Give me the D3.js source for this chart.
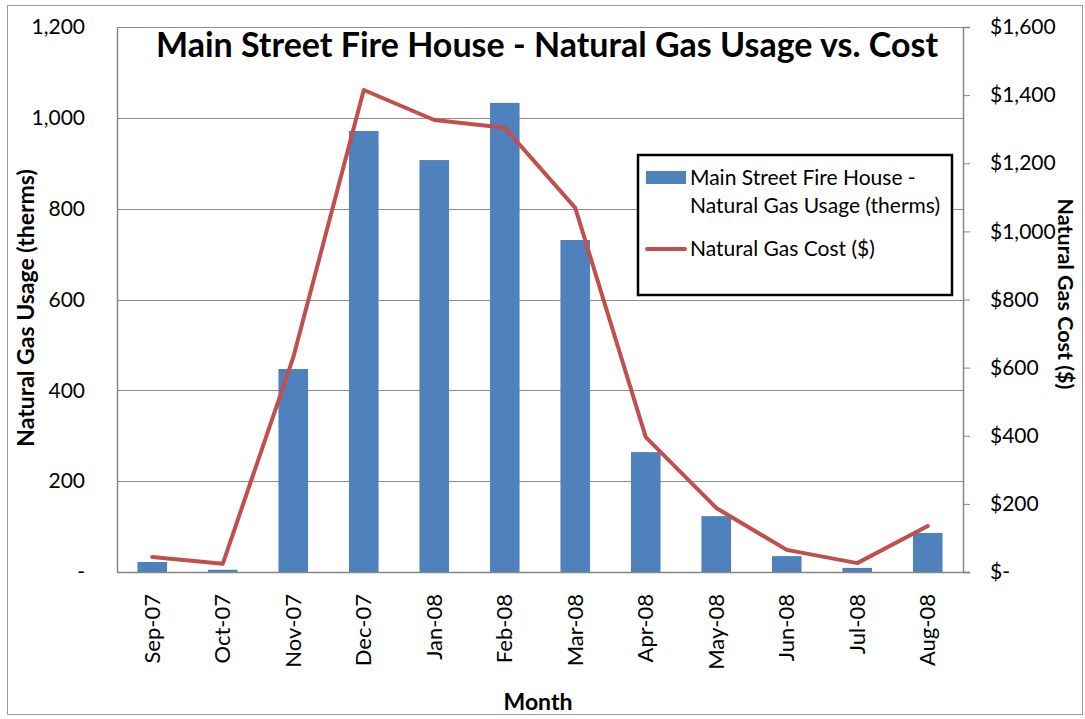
<!DOCTYPE html>
<html>
<head>
<meta charset="utf-8">
<script src="https://cdn.jsdelivr.net/npm/d3@7"></script>
<style>
  body { margin: 0; background: #fff; }
  svg { font-family: Lato, "Open Sans", sans-serif; }
</style>
</head>
<body>
<div class="chart"></div>
<script>
// valores
const months = ['Sep-07', 'Oct-07', 'Nov-07', 'Dec-07', 'Jan-08', 'Feb-08',
                'Mar-08', 'Apr-08', 'May-08', 'Jun-08', 'Jul-08', 'Aug-08'];
const usage = [22, 5, 447, 971, 907, 1033, 731, 264, 123, 35, 9, 86];
const cost = [44, 24, 630, 1415, 1327, 1304, 1069, 396, 188, 65, 26, 135];
const leftTicks = [0, 200, 400, 600, 800, 1000, 1200];
const rightTicks = [0, 200, 400, 600, 800, 1000, 1200, 1400, 1600];

const WIDTH = 1085;
const HEIGHT = 719;
const MARGIN = { TOP: 27, BOTTOM: 147, LEFT: 117, RIGHT: 122 };
const width = WIDTH - MARGIN.LEFT - MARGIN.RIGHT;
const height = HEIGHT - MARGIN.TOP - MARGIN.BOTTOM;

const svg = d3.select('.chart').append('svg')
  .attr('width', WIDTH)
  .attr('height', HEIGHT);

// marco exterior
svg.append('rect')
  .attr('x', 7.5).attr('y', 5.5)
  .attr('width', WIDTH - 10).attr('height', HEIGHT - 10)
  .attr('fill', 'none').attr('stroke', '#9a9a9a').attr('stroke-width', 1);

const g = svg.append('g')
  .attr('transform', `translate(${MARGIN.LEFT}, ${MARGIN.TOP})`);

const xscale = d3.scaleBand().domain(months).range([0, width]).paddingInner(0.58).paddingOuter(0.29);
const yscale = d3.scaleLinear().domain([0, 1200]).range([height, 0]);
const yscale2 = d3.scaleLinear().domain([0, 1600]).range([height, 0]);

// grilla
g.append('g').selectAll('line')
  .data(leftTicks.slice(1))
  .join('line')
    .attr('x1', 0).attr('x2', width)
    .attr('y1', d => Math.round(yscale(d)) + 0.5)
    .attr('y2', d => Math.round(yscale(d)) + 0.5)
    .attr('stroke', '#8c8c8c');

// barras
g.append('g').selectAll('rect')
  .data(usage)
  .join('rect')
    .attr('x', (d, i) => xscale(months[i]))
    .attr('y', d => yscale(d))
    .attr('width', xscale.bandwidth())
    .attr('height', d => height - yscale(d))
    .attr('fill', '#4f81bd');

// linea de costo
const line = d3.line()
  .x((d, i) => xscale(months[i]) + xscale.bandwidth() / 2)
  .y(d => yscale2(d));

g.append('path')
  .datum(cost)
  .attr('d', line)
  .attr('fill', 'none')
  .attr('stroke', '#c0504d')
  .attr('stroke-width', 4)
  .attr('stroke-linejoin', 'round')
  .attr('stroke-linecap', 'round');

// ejes
const axisLeft = d3.axisLeft(yscale).tickValues(leftTicks).tickSize(0).tickPadding(32)
  .tickFormat(d => d === 0 ? '-' : d3.format(',')(d));
const axisRight = d3.axisRight(yscale2).tickValues(rightTicks).tickSize(7).tickPadding(20)
  .tickFormat(d => d === 0 ? '$-' : '$' + d3.format(',')(d));
const axisBottom = d3.axisBottom(xscale).tickSize(0).tickPadding(14);

const yAxis = g.append('g').call(axisLeft);
const yAxis2 = g.append('g').attr('transform', `translate(${width}, 0)`).call(axisRight);
const xAxis = g.append('g').attr('transform', `translate(0, ${height})`).call(axisBottom);

[yAxis, yAxis2, xAxis].forEach(a => {
  a.select('.domain').attr('stroke', '#868686').attr('stroke-width', 1.5);
  a.selectAll('.tick line').attr('stroke', '#868686');
  a.selectAll('text').attr('font-size', 21).attr('fill', '#000').attr('font-family', 'Lato, sans-serif');
});
yAxis.select('.domain').attr('d', `M0.5,0V${height}`);
xAxis.select('.domain').attr('d', `M0,0.5H${width + 7}`);

xAxis.selectAll('text')
  .attr('font-size', 22)
  .attr('transform', 'rotate(-90)')
  .attr('text-anchor', 'end')
  .attr('dy', '0.35em')
  .attr('x', -22)
  .attr('y', 0);

// titulos
svg.append('text')
  .attr('x', 547).attr('y', 57)
  .attr('text-anchor', 'middle')
  .attr('font-size', 34).attr('font-weight', 'bold')
  .text('Main Street Fire House - Natural Gas Usage vs. Cost');

svg.append('text')
  .attr('transform', 'translate(34, 308) rotate(-90)')
  .attr('text-anchor', 'middle')
  .attr('font-size', 23).attr('font-weight', 'bold')
  .text('Natural Gas Usage (therms)');

svg.append('text')
  .attr('transform', 'translate(1058, 294) rotate(90)')
  .attr('text-anchor', 'middle')
  .attr('font-size', 21.5).attr('font-weight', 'bold')
  .text('Natural Gas Cost ($)');

svg.append('text')
  .attr('x', 538).attr('y', 710)
  .attr('text-anchor', 'middle')
  .attr('font-size', 23).attr('font-weight', 'bold')
  .text('Month');

// leyenda
const legend = svg.append('g').attr('transform', 'translate(638, 155)');
legend.append('rect')
  .attr('width', 314).attr('height', 140)
  .attr('fill', '#fff').attr('stroke', '#000').attr('stroke-width', 2.5);
legend.append('rect')
  .attr('x', 8).attr('y', 16).attr('width', 40).attr('height', 13)
  .attr('fill', '#4f81bd');
legend.append('line')
  .attr('x1', 9).attr('x2', 47).attr('y1', 94).attr('y2', 94)
  .attr('stroke', '#c0504d').attr('stroke-width', 4).attr('stroke-linecap', 'round');
const legText = legend.append('text').attr('font-size', 21);
legText.append('tspan').attr('x', 52).attr('y', 30).text('Main Street Fire House -');
legText.append('tspan').attr('x', 52).attr('y', 58).text('Natural Gas Usage (therms)');
legend.append('text').attr('font-size', 21).attr('x', 52).attr('y', 101).text('Natural Gas Cost ($)');
</script>
</body>
</html>
